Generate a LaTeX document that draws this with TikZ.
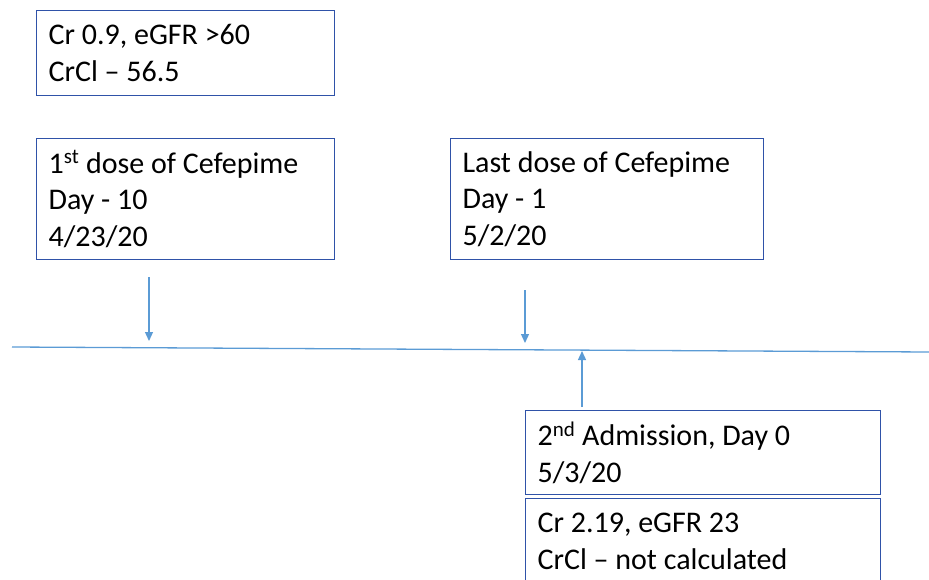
\documentclass[tikz,border=0pt]{standalone}
\usepackage{fontspec}
\setmainfont{Carlito}
\usetikzlibrary{arrows.meta}
\definecolor{boxBlue}{HTML}{2F52A8}
\definecolor{lineBlue}{HTML}{5B9BD5}

\begin{document}
\begin{tikzpicture}[
  x=1pt, y=-1pt,
  box/.style={draw=boxBlue, line width=1.2pt, anchor=north west, inner xsep=12pt, inner ysep=0pt,
    minimum width=#1, text width=#1-24pt, align=left, font=\fontsize{30}{36.6}\selectfont,
    execute at begin node={\spaceskip=0.226em plus 0.1em\relax}},
  arr/.style={-{Triangle[length=9pt,width=8pt]}, draw=lineBlue, line width=1.3pt}
]
\useasboundingbox (0,0) rectangle (929,580);

% boxes above the line
\node[box=298pt, minimum height=85pt] (crOne) at (36,10) {Cr 0.9, eGFR >60\\CrCl -- 56.5};
\node[box=298pt, minimum height=121pt] (first) at (36,138) {1\textsuperscript{st} dose of Cefepime\\Day - 10\\4/23/20};
\node[box=313pt, minimum height=121pt] (last) at (450,138) {Last dose of Cefepime\\Day - 1\\5/2/20};

% boxes below the line
\node[box=355pt, minimum height=84pt] (adm) at (525,410) {2\textsuperscript{nd} Admission, Day 0\\5/3/20};
\node[box=355pt, minimum height=86pt] (crTwo) at (525,498) {Cr 2.19, eGFR 23\\CrCl -- not calculated};

% timeline
\coordinate (tl) at (12,347);
\coordinate (tr) at (929,352);
\draw[lineBlue, line width=1.3pt] (tl) -- (tr);

\coordinate (aTop) at (149,277);
\coordinate (aBot) at (149,341);
\coordinate (bTop) at (525,290);
\coordinate (bBot) at (525,343);
\coordinate (cTop) at (582,351);
\coordinate (cBot) at (582,407);
\draw[arr] (aTop) -- (aBot);
\draw[arr] (bTop) -- (bBot);
\draw[arr] (cBot) -- (cTop);
\end{tikzpicture}
\end{document}
